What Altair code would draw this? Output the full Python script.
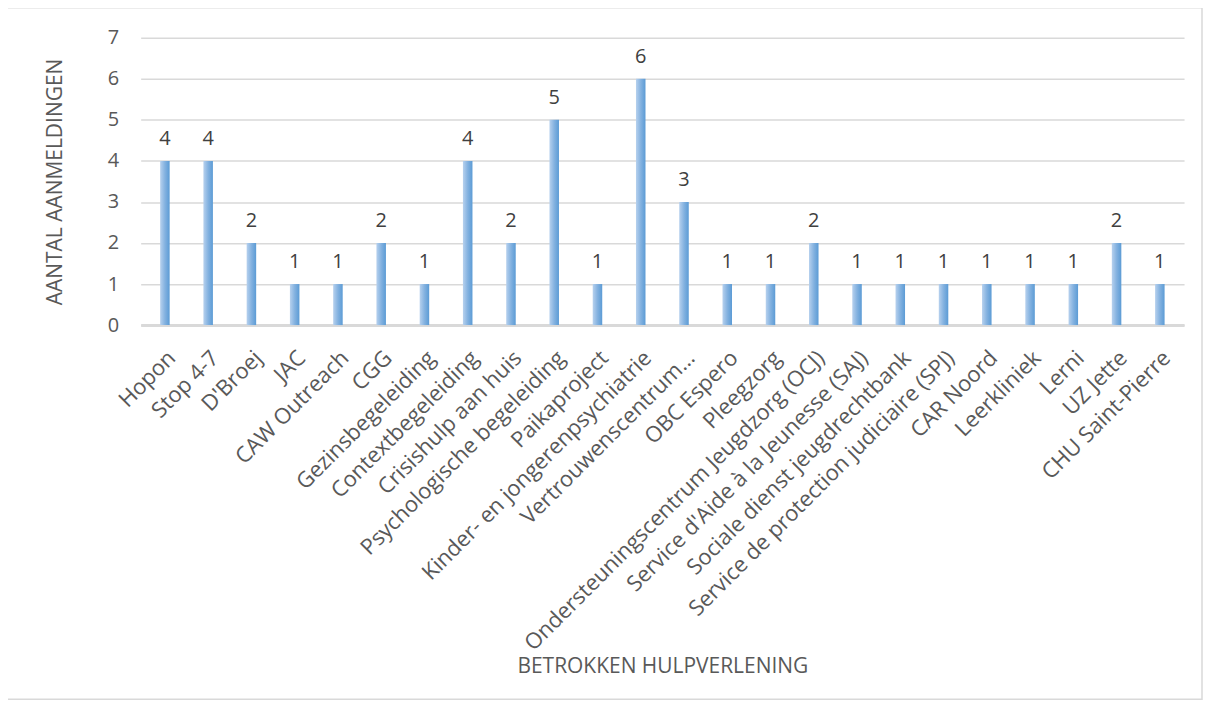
import altair as alt
import pandas as pd

categories = [
    "Hopon", "Stop 4-7", "D'Broej", "JAC", "CAW Outreach", "CGG",
    "Gezinsbegeleiding", "Contextbegeleiding", "Crisishulp aan huis",
    "Psychologische begeleiding", "Paikaproject",
    "Kinder- en jongerenpsychiatrie", "Vertrouwenscentrum…", "OBC Espero",
    "Pleegzorg", "Ondersteuningscentrum Jeugdzorg (OCJ)",
    "Service d'Aide à la Jeunesse (SAJ)", "Sociale dienst jeugdrechtbank",
    "Service de protection judiciaire (SPJ)", "CAR Noord", "Leerkliniek",
    "Lerni", "UZ Jette", "CHU Saint-Pierre",
]
values = [4, 4, 2, 1, 1, 2, 1, 4, 2, 5, 1, 6, 3, 1, 1, 2, 1, 1, 1, 1, 1, 1, 2, 1]
y_ticks = [0, 1, 2, 3, 4, 5, 6, 7]

df = pd.DataFrame({"cat": categories, "val": values})

FONT = "Open Sans"
TXT = "#595959"
W, H = 1046, 288

xenc = alt.X(
    "cat:N", sort=categories,
    scale=alt.Scale(paddingInner=0.78, paddingOuter=0.45),
    axis=alt.Axis(
        title="BETROKKEN HULPVERLENING", labelAngle=-45, ticks=False,
        labelAlign="right", labelBaseline="top",
        domainColor="#d9d9d9", domainWidth=3, labelPadding=22,
        labelLimit=600, labelFontSize=22,
        titleY=342, titleBaseline="middle",
    ),
)
yenc = alt.Y(
    "val:Q", scale=alt.Scale(domain=[0, 7], nice=False),
    axis=alt.Axis(
        title="AANTAL AANMELDINGEN", values=y_ticks,
        domain=False, ticks=False, gridColor="#d9d9d9", gridWidth=1.5,
        labelPadding=22, titlePadding=42, labelFontSize=20,
    ),
)

base = alt.Chart(df)

bars = base.mark_bar(
    color=alt.Gradient(
        gradient="linear", x1=0, x2=1, y1=0, y2=0,
        stops=[
            alt.GradientStop(color="#b7d1ee", offset=0),
            alt.GradientStop(color="#84b2e0", offset=0.5),
            alt.GradientStop(color="#5b9bd5", offset=1),
        ],
    )
).encode(x=xenc, y=yenc)

labels = base.mark_text(
    baseline="bottom", dy=-12, font=FONT, fontSize=20, color="#404040"
).encode(x=xenc, y=yenc, text="val:Q")

frame = alt.Chart(pd.DataFrame({"a": [0]})).mark_rect(
    fill=None, stroke="#d9d9d9", strokeWidth=1.5, clip=False
).encode(
    x=alt.value(-134), x2=alt.value(W + 18),
    y=alt.value(-30), y2=alt.value(H + 375),
)

chart = alt.layer(frame, bars, labels).properties(
    width=W, height=H,
    autosize=alt.AutoSizeParams(type="none"),
    padding={"left": 133, "top": 29, "right": 20, "bottom": 376},
).configure_view(stroke=None).configure_axis(
    labelFont=FONT, titleFont=FONT, titleFontSize=21,
    labelColor=TXT, titleColor=TXT, titleFontWeight="normal",
)

chart.save("out.html", embed_options={"renderer": "svg", "actions": False})
